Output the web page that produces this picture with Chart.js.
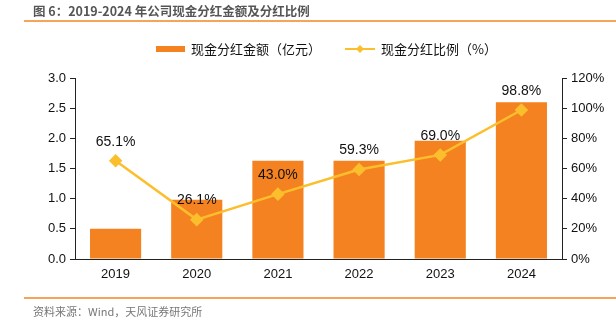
<!DOCTYPE html>
<html>
<head>
<meta charset="utf-8">
<script src="https://cdn.jsdelivr.net/npm/chart.js@4"></script>
<style>
  body { margin: 0; background: #fff; }
  #wrap { position: relative; width: 616px; height: 326px; }
  #title { position: absolute; left: 33px; top: 1px; font: bold 12.5px "Noto Sans CJK SC", sans-serif; color: #555; white-space: nowrap; }
  #tline { position: absolute; left: 24px; right: 0; top: 20px; height: 2px; background: #F5A45A; }
  #fline { position: absolute; left: 24px; right: 0; top: 297px; height: 2px; background: #F5A45A; }
  #source { position: absolute; left: 33px; top: 303px; font: 11px "Noto Sans CJK SC", sans-serif; color: #777; white-space: nowrap; }
  canvas { position: absolute; left: 0; top: 0; }
</style>
</head>
<body>
<div id="wrap">
  <canvas id="chart_canvas" width="616" height="326"></canvas>
  <div id="title">图 6：2019-2024 年公司现金分红金额及分红比例</div>
  <div id="tline"></div>
  <div id="fline"></div>
  <div id="source">资料来源：Wind，天风证券研究所</div>
</div>
<script>
const years = ['2019', '2020', '2021', '2022', '2023', '2024'];
const dividend = [0.50, 0.98, 1.63, 1.63, 1.96, 2.60];
const payoutRatio = [65.1, 26.1, 43.0, 59.3, 69.0, 98.8];
const barLabel = '现金分红金额（亿元）';
const lineLabel = '现金分红比例（%）';

const orange = '#F58220';
const yellow = '#FBBF2D';

// data labels above the line points + custom legend
const extras = {
  id: 'extras',
  afterDatasetsDraw(chart) {
    const c = chart.ctx;
    const meta = chart.getDatasetMeta(1);
    c.save();
    c.font = '14px "Liberation Sans", Arial, sans-serif';
    c.fillStyle = '#111';
    c.textAlign = 'center';
    c.textBaseline = 'middle';
    meta.data.forEach((pt, i) => {
      c.fillText(payoutRatio[i].toFixed(1) + '%', pt.x, pt.y - 19);
    });
    // legend
    c.font = '13px "Noto Sans CJK SC", sans-serif';
    c.textAlign = 'left';
    c.fillStyle = orange;
    c.fillRect(156, 46, 29, 6);
    c.fillStyle = '#111';
    c.fillText(barLabel, 191, 49);
    c.strokeStyle = yellow;
    c.lineWidth = 2;
    c.beginPath(); c.moveTo(345, 49); c.lineTo(375, 49); c.stroke();
    c.fillStyle = yellow;
    c.beginPath(); c.moveTo(360, 45); c.lineTo(364, 49); c.lineTo(360, 53); c.lineTo(356, 49); c.closePath(); c.fill();
    c.fillStyle = '#111';
    c.fillText(lineLabel, 381, 49);
    c.restore();
  }
};

const tickFont = { family: '"Liberation Sans", Arial, sans-serif', size: 13 };

new Chart(document.getElementById('chart_canvas'), { // eslint-disable-line no-undef
  data: {
    labels: years,
    datasets: [{
      type: 'bar',
      label: barLabel,
      data: dividend,
      backgroundColor: orange,
      yAxisID: 'y',
      barPercentage: 0.63,
      categoryPercentage: 1,
      order: 2
    }, {
      type: 'line',
      label: lineLabel,
      data: payoutRatio,
      borderColor: yellow,
      backgroundColor: yellow,
      borderWidth: 2.5,
      pointStyle: 'rectRot',
      pointRadius: 5,
      pointHoverRadius: 5,
      yAxisID: 'y1',
      order: 1
    }]
  },
  options: {
    responsive: false,
    animation: false,
    layout: { padding: { top: 78, bottom: 37, left: 0, right: 0 } },
    plugins: { legend: { display: false }, tooltip: { enabled: false } },
    scales: {
      x: {
        grid: { display: false, drawOnChartArea: false, tickLength: 5, offset: true, color: '#222' },
        border: { color: '#222' },
        ticks: { color: '#111', font: tickFont, padding: 3 },
        afterFit(s) { s.height = 30; }
      },
      y: {
        position: 'left',
        min: 0, max: 3,
        grid: { drawOnChartArea: false, tickLength: 5, color: '#222' },
        border: { color: '#222' },
        ticks: { stepSize: 0.5, color: '#111', font: tickFont, padding: 4, callback: v => v.toFixed(1) },
        afterFit(s) { s.width = 75; }
      },
      y1: {
        position: 'right',
        min: 0, max: 120,
        grid: { drawOnChartArea: false, tickLength: 5, color: '#222' },
        border: { color: '#222' },
        ticks: { stepSize: 20, color: '#111', font: tickFont, padding: 4, callback: v => v + '%' },
        afterFit(s) { s.width = 54; }
      }
    }
  },
  plugins: [extras]
});
</script>
</body>
</html>
